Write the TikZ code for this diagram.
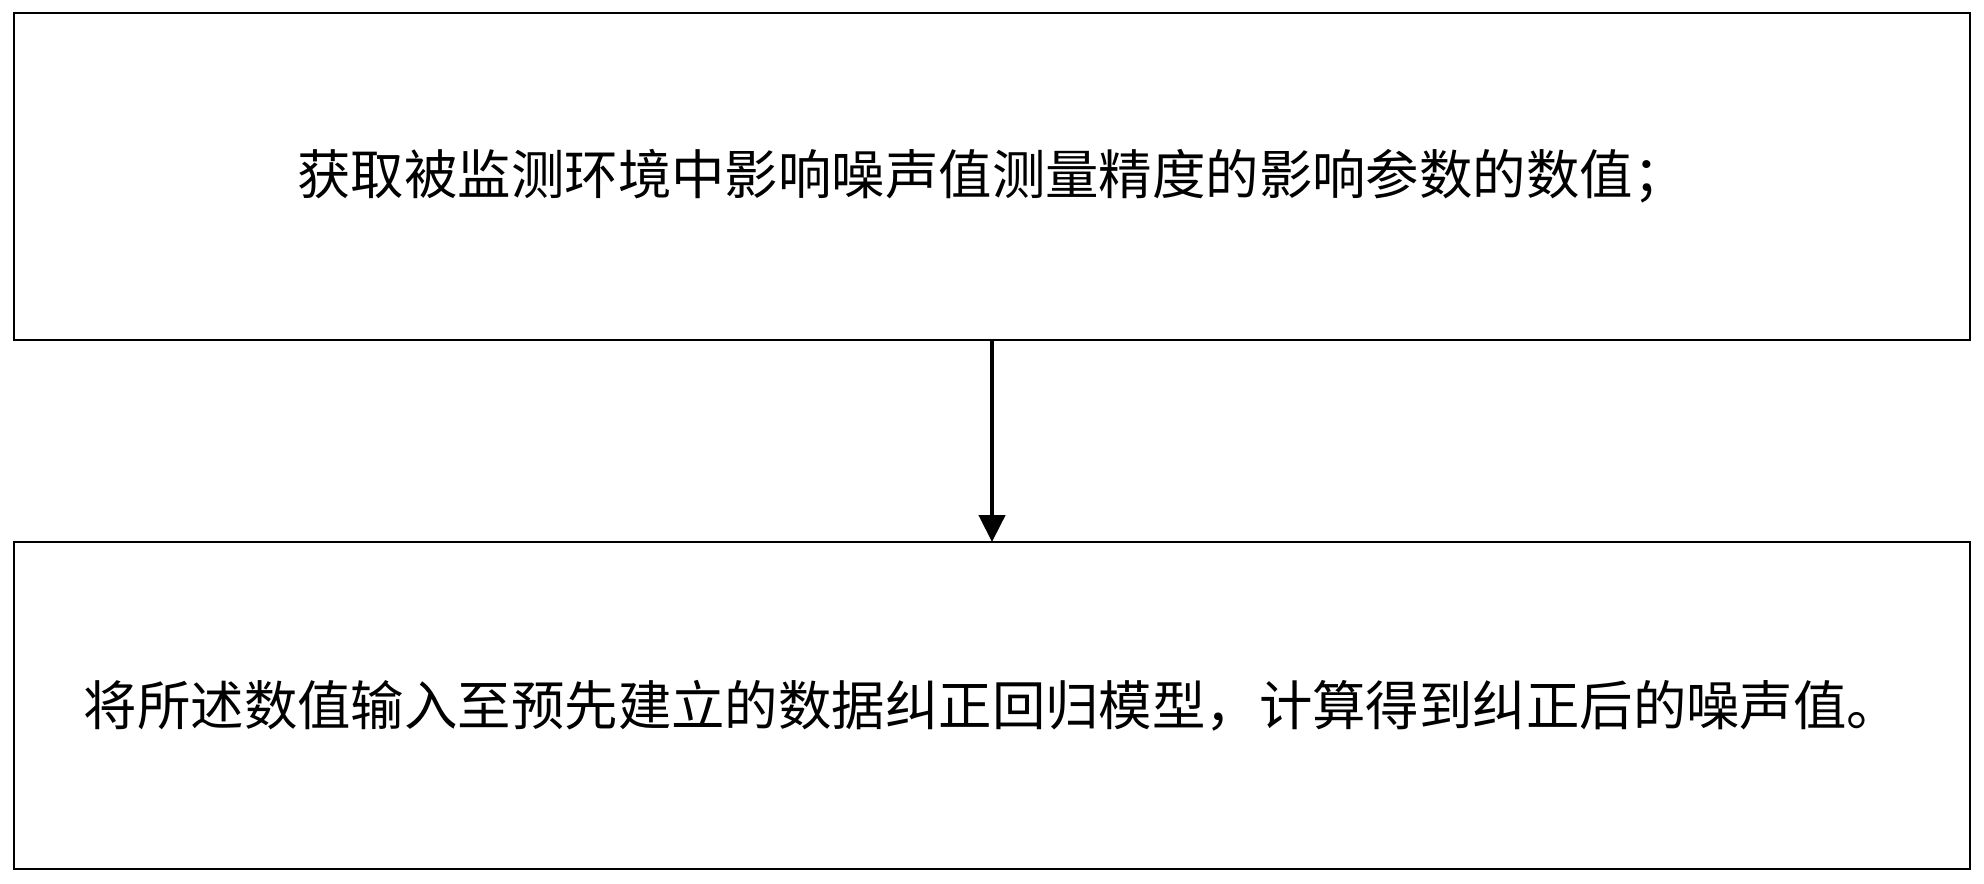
\documentclass[tikz,border=0pt]{standalone}
\usepackage{fontspec}
\usepackage{xcolor}
\usepackage{tikz}
\usetikzlibrary{arrows.meta, positioning}
\newfontfamily\cjk{Noto Sans CJK SC}
\tikzset{
  stepbox/.style={rectangle, draw=black, line width=0.6pt, outer sep=0pt, align=center, minimum width=19.56cm, minimum height=3.27cm, font=\cjk\fontsize{15.2pt}{18pt}\selectfont},
  arr/.style={-{Triangle[length=0.27cm, width=0.26cm]}, line width=1.3pt, draw=black},
}
\begin{document}
\begin{tikzpicture}
  \useasboundingbox (0,0) rectangle (19.84,-8.83);
  \node[stepbox] (s1) at (9.92,-1.765) {获取被监测环境中影响噪声值测量精度的影响参数的数值；};
  \node[stepbox, below=2.02cm of s1] (s2) {将所述数值输入至预先建立的数据纠正回归模型，计算得到纠正后的噪声值。};
  \draw[arr] (s1) -- (s2);
\end{tikzpicture}
\end{document}
